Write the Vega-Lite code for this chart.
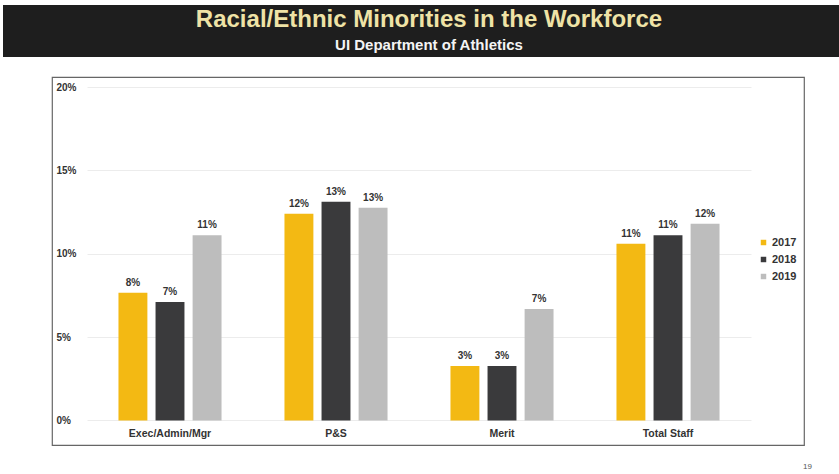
{
  "$schema": "https://vega.github.io/schema/vega-lite/v6.json",
  "padding": {"left": 3, "top": 5, "right": 0, "bottom": 0},
  "background": "white",
  "config": {"font": "Liberation Sans"},
  "title": {"text": "19", "orient": "bottom", "anchor": "end", "fontSize": 8, "fontWeight": "normal", "color": "#555", "offset": 17, "dx": -27},
  "spacing": 19,
  "vconcat": [
    {
      "width": 836,
      "height": 52,
      "view": {"fill": "#1e1e1e", "stroke": null},
      "data": {"values": [
        {"line": "title", "text": "Racial/Ethnic Minorities in the Workforce"},
        {"line": "subtitle", "text": "UI Department of Athletics"}
      ]},
      "encoding": {
        "y": {"field": "line", "type": "nominal", "scale": {"type": "point", "domain": ["title", "subtitle"], "range": [15, 40], "padding": 0}, "axis": null},
        "text": {"field": "text"}
      },
      "layer": [
        {"transform": [{"filter": "datum.line === 'title'"}], "mark": {"type": "text", "fontSize": 24, "fontWeight": "bold", "color": "#efe3a6", "dx": 8, "baseline": "middle"}},
        {"transform": [{"filter": "datum.line === 'subtitle'"}], "mark": {"type": "text", "fontSize": 15, "fontWeight": "bold", "color": "#f4f4f4", "dx": 8, "baseline": "middle"}}
      ]
    },
    {
      "spacing": 0,
      "hconcat": [
        {"width": 48, "height": 368, "view": {"stroke": null}, "data": {"values": []}, "mark": "point", "encoding": {}},
        {
          "width": 752,
          "height": 368,
          "view": {"stroke": "#666", "strokeWidth": 1.2},
          "data": {"values": [
            {"category": "Exec/Admin/Mgr", "year": "2017", "value": 0.0766},
            {"category": "Exec/Admin/Mgr", "year": "2018", "value": 0.0711},
            {"category": "Exec/Admin/Mgr", "year": "2019", "value": 0.1111},
            {"category": "P&S", "year": "2017", "value": 0.1240},
            {"category": "P&S", "year": "2018", "value": 0.1312},
            {"category": "P&S", "year": "2019", "value": 0.1276},
            {"category": "Merit", "year": "2017", "value": 0.0327},
            {"category": "Merit", "year": "2018", "value": 0.0327},
            {"category": "Merit", "year": "2019", "value": 0.0669},
            {"category": "Total Staff", "year": "2017", "value": 0.1060},
            {"category": "Total Staff", "year": "2018", "value": 0.1111},
            {"category": "Total Staff", "year": "2019", "value": 0.1180}
          ]},
          "encoding": {
            "x": {
              "field": "category", "type": "nominal",
              "sort": ["Exec/Admin/Mgr", "P&S", "Merit", "Total Staff"],
              "scale": {"range": [35, 699], "paddingInner": 0.33, "paddingOuter": 0.165},
              "axis": {"title": null, "labelAngle": 0, "domain": false, "ticks": false, "tickSize": 0, "offset": -24, "labelPadding": 7, "labelFontSize": 10.5, "labelFontWeight": "bold", "labelColor": "#333"}
            },
            "xOffset": {"field": "year", "type": "nominal", "scale": {"paddingInner": 0.22, "paddingOuter": 0.11}},
            "y": {
              "field": "value", "type": "quantitative",
              "scale": {"domain": [-0.0147, 0.206], "nice": false, "zero": false},
              "axis": {"title": null, "values": [0, 0.05, 0.1, 0.15, 0.2], "format": ".0%", "domain": false, "ticks": false, "tickSize": 0, "labelAlign": "left", "labelPadding": -4, "labelFontSize": 10, "labelFontWeight": "bold", "labelColor": "#333", "grid": true, "gridColor": "#ececec"}
            }
          },
          "layer": [
            {
              "mark": {"type": "bar"},
              "encoding": {
                "color": {
                  "field": "year", "type": "nominal",
                  "scale": {"domain": ["2017", "2018", "2019"], "range": ["#f3b913", "#3a3a3c", "#bdbdbd"]},
                  "legend": {"title": null, "orient": "none", "legendX": 755, "legendY": 232, "symbolType": "square", "symbolSize": 30, "labelFontSize": 11, "labelFontWeight": "bold", "labelColor": "#333", "rowPadding": 5, "labelOffset": 3}
                }
              }
            },
            {
              "mark": {"type": "text", "dy": -10, "baseline": "middle", "fontSize": 10, "fontWeight": "bold", "color": "#333"},
              "encoding": {"text": {"field": "value", "type": "quantitative", "format": ".0%"}}
            }
          ]
        }
      ]
    }
  ]
}
